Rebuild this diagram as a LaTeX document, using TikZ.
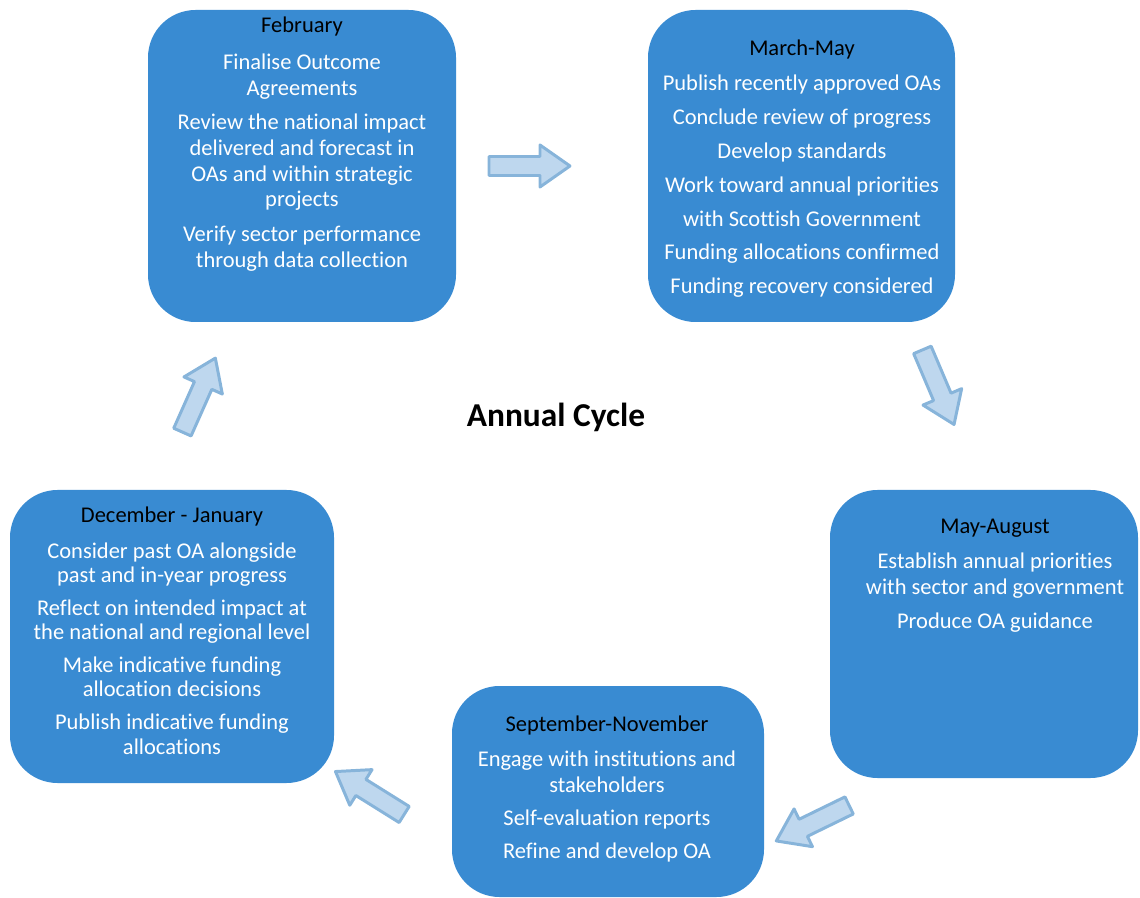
\documentclass[tikz,border=0pt]{standalone}
\usepackage{fontspec}
\setmainfont{Carlito}[Ligatures=NoCommon]
\usetikzlibrary{fit}
\definecolor{boxblue}{RGB}{57,139,210}
\definecolor{arrowfill}{RGB}{190,215,238}
\definecolor{arrowline}{RGB}{135,180,218}
\begin{document}
\begin{tikzpicture}[x=0.02cm, y=-0.02cm,
    stage/.style={fill=boxblue, rounded corners=0.95cm, inner sep=0pt},
    steps/.style={text=white, align=center, inner sep=0pt, anchor=north,
      font=\fontsize{12.8}{14.7}\selectfont},
    flow/.pic={\draw[arrowline, fill=arrowfill, line width=1.7pt, line join=round]
      (1,-9.5) -- (52,-9.5) -- (52,-21) -- (82,0) -- (52,21) -- (52,9.5) -- (1,9.5) -- cycle;}]
  \useasboundingbox (0,0) rectangle (1140,898);
  % the five stages
  \node[stage, fit={(148,10) (456,322)}] (feb) {};
  \node[stage, fit={(648,10) (955,322)}] (mar) {};
  \node[stage, fit={(830,490) (1138,778)}] (may) {};
  \node[stage, fit={(452,686) (764,897)}] (sep) {};
  \node[stage, fit={(10,490) (334,783)}] (dec) {};
  % their texts
  \node[steps] (febtext) at (302,17) {\textcolor{black}{February}\\[0.22cm]
    Finalise Outcome\\Agreements\\[0.16cm]
    Review the national impact\\delivered and forecast in\\OAs and within strategic\\projects\\[0.17cm]
    Verify sector performance\\through data collection};
  \node[steps] (martext) at (802,40) {\textcolor{black}{March-May}\\[0.18cm]
    Publish recently approved OAs\\[0.16cm]
    Conclude review of progress\\[0.16cm]
    Develop standards\\[0.16cm]
    Work toward annual priorities\\[0.16cm]
    with Scottish Government\\[0.16cm]
    Funding allocations confirmed\\[0.16cm]
    Funding recovery considered};
  \node[steps] (maytext) at (995,519) {\textcolor{black}{May-August}\\[0.18cm]
    Establish annual priorities\\with sector and government\\[0.16cm]
    Produce OA guidance};
  \node[steps] (septext) at (607,716) {\textcolor{black}{September-November}\\[0.18cm]
    Engage with institutions and\\stakeholders\\[0.14cm]
    Self-evaluation reports\\[0.14cm]
    Refine and develop OA};
  \node[steps, font=\fontsize{12.8}{13.7}\selectfont] (dectext) at (172,507) {\textcolor{black}{December - January}\\[0.23cm]
    Consider past OA alongside\\past and in-year progress\\[0.18cm]
    Reflect on intended impact at\\the national and regional level\\[0.18cm]
    Make indicative funding\\allocation decisions\\[0.18cm]
    Publish indicative funding\\allocations};
  \node[font=\bfseries\fontsize{19}{23}\selectfont] (cycle) at (556,417) {Annual Cycle};
  % arrows between the stages
  \pic[rotate=0] at (488,166) {flow};
  \pic[rotate=-67] at (922,349) {flow};
  \pic[rotate=-154] at (850,805) {flow};
  \pic[rotate=148] at (405,815) {flow};
  \pic[rotate=66] at (182,433) {flow};
\end{tikzpicture}
\end{document}
